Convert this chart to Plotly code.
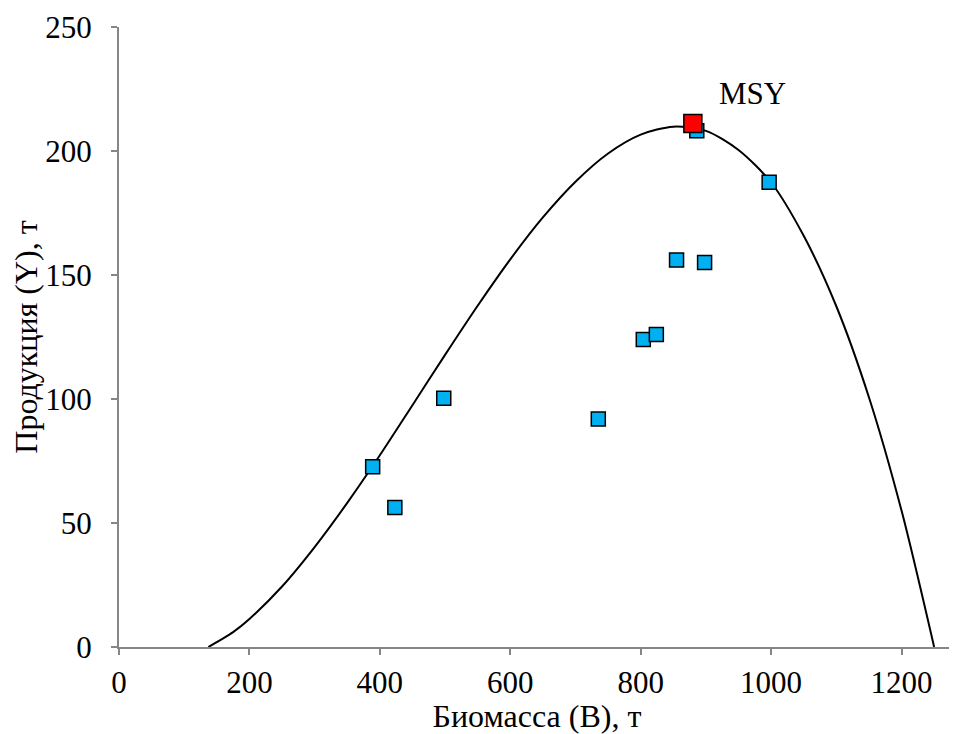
import plotly.graph_objects as go

FONT = "Liberation Serif, Times New Roman, serif"

# observed points: biomass B (t), production Y (t)
biomass = [389, 423, 498, 735, 804, 824, 855, 898, 886, 997]
production = [72.7, 56.3, 100.3, 91.9, 124.0, 126.0, 156.0, 155.0, 208.2, 187.4]

# MSY point
msy_b = [880]
msy_y = [211.1]

# fitted production curve
curve_b = [137, 175, 200, 250, 300, 350, 400, 450, 500, 550, 600, 650, 700, 750,
           800, 850, 900, 950, 1000, 1050, 1100, 1150, 1200, 1250]
curve_y = [0, 6.0, 11.3, 24.4, 40.3, 58.1, 77.3, 97.5, 117.8, 137.6, 156.3, 173.2, 187.6, 199.0,
           206.6, 209.8, 208.1, 200.4, 187.3, 165.8, 137.4, 100.7, 55.0, 0]

fig = go.Figure()
fig.add_trace(go.Scatter(x=curve_b, y=curve_y, mode="lines", line=dict(color="black", width=2, shape="spline", smoothing=0.8),
                         hoverinfo="skip", showlegend=False))
fig.add_trace(go.Scatter(x=biomass, y=production, mode="markers", showlegend=False,
                         marker=dict(symbol="square", size=14, color="#00B0F0", line=dict(color="black", width=1.5))))
fig.add_trace(go.Scatter(x=msy_b, y=msy_y, mode="markers", showlegend=False,
                         marker=dict(symbol="square", size=18, color="#FF0000", line=dict(color="black", width=1.5))))

fig.add_annotation(x=msy_b[0], y=msy_y[0], text="MSY", showarrow=False, xanchor="left", yanchor="middle",
                   xshift=24, yshift=30, font=dict(family=FONT, size=31, color="black"))

axis_style = dict(showgrid=False, zeroline=False, showline=True, linecolor="#868686", linewidth=2,
                  ticks="outside", tickcolor="#868686", ticklen=6, tickwidth=2, automargin=False)

# page body adds 8px, so the figure is a bit smaller than the window
fig.update_layout(
    width=949, height=726,
    margin=dict(l=111, r=2, t=19, b=87),
    plot_bgcolor="white", paper_bgcolor="white",
    xaxis=dict(range=[0, 1282], tickvals=[0, 200, 400, 600, 800, 1000, 1200], ticklabelstandoff=1,
               tickfont=dict(family=FONT, size=31, color="black"),
               title=dict(text="Биомасса (B), т", font=dict(family=FONT, size=32, color="black"), standoff=8),
               **axis_style),
    yaxis=dict(range=[0, 250], tickvals=[0, 50, 100, 150, 200, 250], ticklabelstandoff=13,
               tickfont=dict(family=FONT, size=31, color="black"),
               title=dict(text="Продукция (Y), т", font=dict(family=FONT, size=32, color="black"), standoff=6),
               **axis_style),
)

fig.write_html("out.html")
